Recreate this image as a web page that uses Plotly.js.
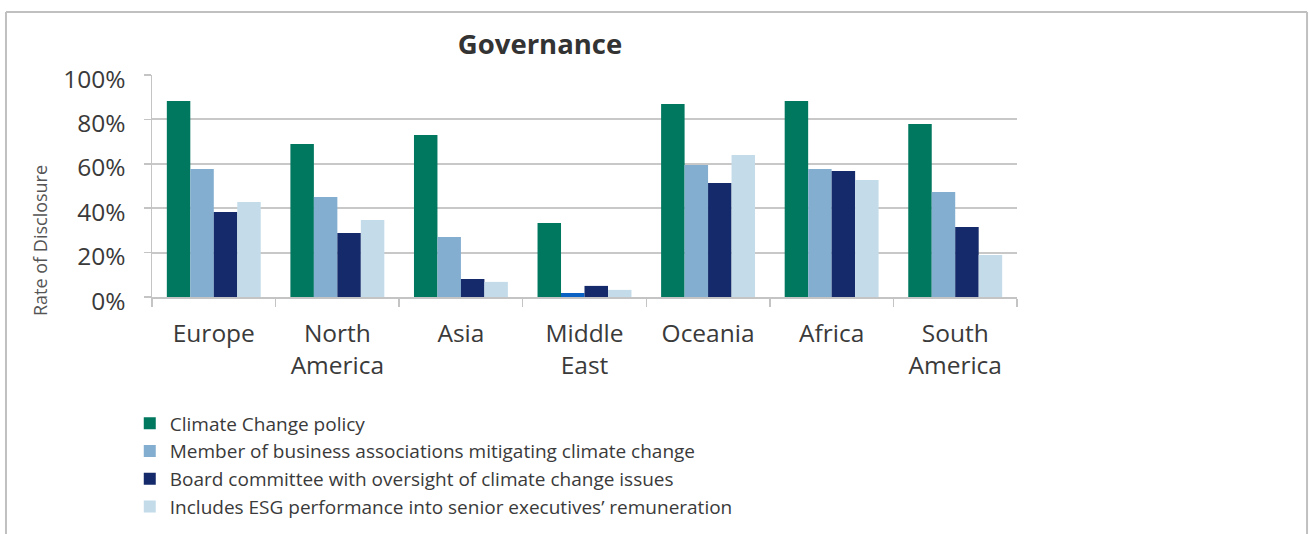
<!DOCTYPE html>
<html>
<head>
<meta charset="utf-8">
<script src="https://cdn.plot.ly/plotly-3.0.1.min.js"></script>
<style>html,body{margin:0;padding:0;background:#fff;}#chart{width:1309px;height:534px;}</style>
</head>
<body>
<div id="chart"></div>
<script>
var regions = ["Europe", "North<br>America", "Asia", "Middle<br>East", "Oceania", "Africa", "South<br>America"];
var seriesNames = [
  "Climate Change policy",
  "Member of business associations mitigating climate change",
  "Board committee with oversight of climate change issues",
  "Includes ESG performance into senior executives\u2019 remuneration"
];
var climatePolicy   = [0.883, 0.689, 0.730, 0.333, 0.869, 0.883, 0.779];
var businessAssoc   = [0.577, 0.450, 0.270, 0.018, 0.595, 0.577, 0.473];
var boardCommittee  = [0.383, 0.288, 0.081, 0.050, 0.514, 0.568, 0.315];
var esgRemuneration = [0.428, 0.347, 0.068, 0.032, 0.640, 0.527, 0.189];
var yTickVals = [0, 0.2, 0.4, 0.6, 0.8, 1.0];
var yTickText = ["0%", "20%", "40%", "60%", "80%", "100%"];

var colors = ["#00775f", "#84aed0", "#152a6a", "#c4dcea"];
var assocColors = regions.map(function (r, i) { return i === 3 ? "#0a62c2" : colors[1]; });
var values = [climatePolicy, businessAssoc, boardCommittee, esgRemuneration];

var traces = values.map(function (v, i) {
  return {
    type: "bar",
    name: seriesNames[i],
    x: regions,
    y: v,
    marker: { color: i === 1 ? assocColors : colors[i], line: { width: 0 } },
    hoverinfo: "skip"
  };
});

var font = "'Open Sans', 'Liberation Sans', sans-serif";
var layout = {
  width: 1309,
  height: 534,
  margin: { l: 152, r: 292, t: 75, b: 237, pad: 0 },
  paper_bgcolor: "#ffffff",
  plot_bgcolor: "#ffffff",
  barmode: "group",
  bargap: 0.24,
  bargroupgap: 0,
  showlegend: true,
  title: {
    text: "<b>Governance</b>",
    font: { family: font, size: 27.5, color: "#333333" },
    x: 0.4486, xref: "paper", xanchor: "center",
    y: 0.9176, yref: "container", yanchor: "middle"
  },
  xaxis: {
    type: "category",
    tickfont: { family: font, size: 24.5, color: "#3a3a3a" },
    showgrid: false,
    showline: true, linecolor: "#c4c4c4", linewidth: 2,
    ticks: "outside", tickson: "boundaries", ticklen: 8, tickcolor: "#c4c4c4", tickwidth: 1.5,
    ticklabelstandoff: 14,
    fixedrange: true
  },
  yaxis: {
    range: [0, 1.0],
    tickvals: yTickVals,
    ticktext: yTickText,
    tickfont: { family: font, size: 24.5, color: "#3a3a3a" },
    showgrid: true, gridcolor: "#c8c8c8", gridwidth: 2,
    showline: true, linecolor: "#c4c4c4", linewidth: 1.5,
    ticks: "outside", ticklen: 7, tickcolor: "#c4c4c4", tickwidth: 1.5,
    ticklabelstandoff: 13,
    ticklabelshift: 4,
    zeroline: false,
    fixedrange: true
  },
  legend: {
    orientation: "v",
    x: -0.0257, xanchor: "left", xref: "paper",
    y: 0.2425, yanchor: "top", yref: "container",
    font: { family: font, size: 19, color: "#3a3a3a" },
    bgcolor: "rgba(0,0,0,0)",
    traceorder: "normal",
    itemclick: false, itemdoubleclick: false
  },
  annotations: [
    {
      text: "Rate of Disclosure",
      xref: "paper", yref: "paper",
      x: -0.1295, y: 0.2565,
      xanchor: "center", yanchor: "middle",
      textangle: -90,
      showarrow: false,
      font: { family: font, size: 18, color: "#555555" }
    }
  ],
  shapes: [
    { type: "line", xref: "paper", yref: "paper", x0: -0.1688, x1: 1.3353, y0: 1.2838, y1: 1.2838, line: { color: "#c0c0c0", width: 2 } },
    { type: "line", xref: "paper", yref: "paper", x0: -0.1688, x1: -0.1688, y0: 1.2838, y1: -1.2, line: { color: "#c0c0c0", width: 2 } },
    { type: "line", xref: "paper", yref: "paper", x0: 1.3353, x1: 1.3353, y0: 1.2838, y1: -1.2, line: { color: "#c0c0c0", width: 2 } }
  ]
};

Plotly.newPlot("chart", traces, layout, { displayModeBar: false, staticPlot: true });
</script>
</body>
</html>
